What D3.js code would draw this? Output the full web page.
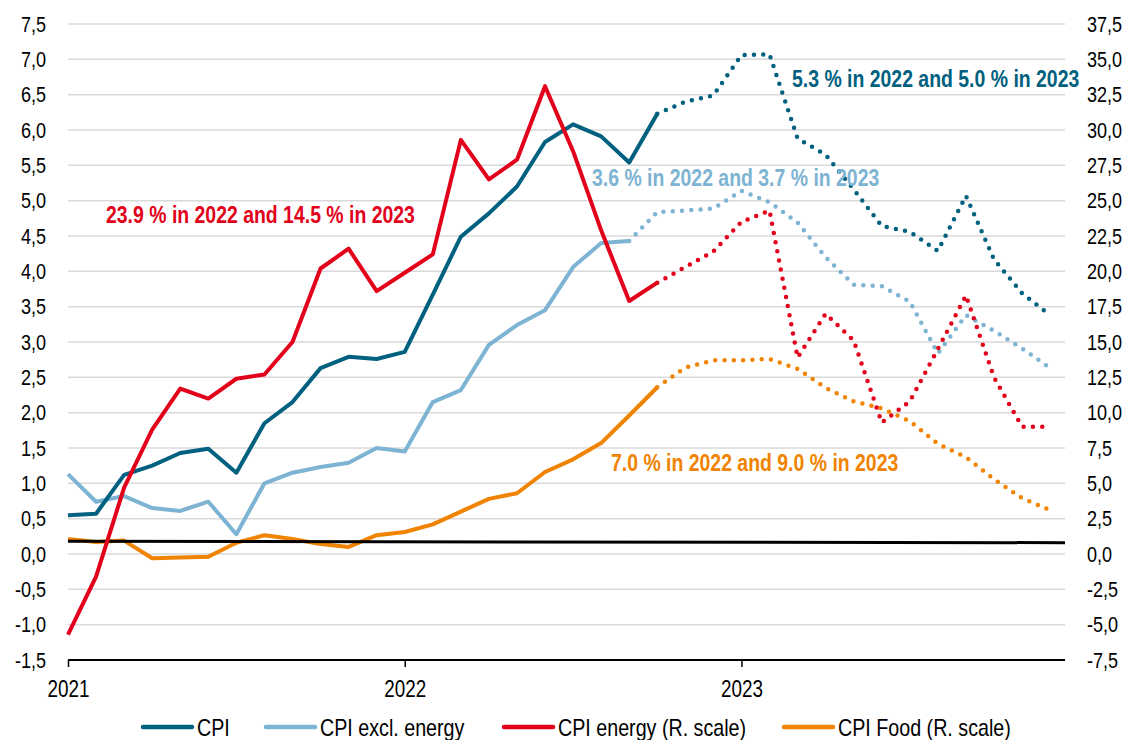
<!DOCTYPE html>
<html>
<head>
<meta charset="utf-8">
<script src="https://cdn.jsdelivr.net/npm/d3@7"></script>
<style>
  html, body { margin: 0; padding: 0; background: #fff; }
  svg { display: block; font-family: "Liberation Sans Narrow", "Arial Narrow", "Liberation Sans", sans-serif; }
</style>
</head>
<body>
<div id="host"></div>
<script>
// monthly, Jan 2021 .. Dec 2023 (index 0..35)
const yearLabels = ['2021', '2022', '2023'];
const yearTicks = [0, 12, 24];

const cpi = [0.55, 0.57, 1.12, 1.25, 1.43, 1.49, 1.15, 1.85, 2.15, 2.63, 2.79, 2.76,
  2.86, 3.67, 4.49, 4.82, 5.2, 5.83, 6.08, 5.91, 5.54, 6.23, 6.4, 6.49,
  7.06, 7.07, 5.88, 5.65, 5.16, 4.64, 4.56, 4.29, 5.07, 4.17, 3.69, 3.38];
const cpiExEnergy = [1.13, 0.74, 0.82, 0.65, 0.61, 0.74, 0.28, 1.0, 1.15, 1.23, 1.29, 1.5,
  1.45, 2.15, 2.32, 2.96, 3.24, 3.45, 4.06, 4.4, 4.43, 4.84, 4.86, 4.89,
  5.14, 4.98, 4.69, 4.2, 3.81, 3.79, 3.57, 2.84, 3.38, 3.16, 2.91, 2.63];
const cpiEnergy = [-5.7, -1.6, 4.7, 8.8, 11.7, 11.0, 12.4, 12.7, 15.0, 20.2, 21.6, 18.6,
  19.9, 21.2, 29.3, 26.5, 27.9, 33.1, 28.5, 22.9, 17.9, 19.2, 20.3, 21.4,
  23.5, 24.3, 13.9, 17.0, 15.1, 9.3, 10.8, 14.5, 18.3, 12.5, 9.0, 9.0];
const cpiFood = [1.06, 0.85, 0.95, -0.3, -0.25, -0.2, 0.8, 1.33, 1.06, 0.7, 0.5, 1.33,
  1.56, 2.1, 3.0, 3.9, 4.3, 5.8, 6.7, 7.85, 9.8, 11.8, 13.2, 13.7,
  13.7, 13.8, 13.1, 11.75, 10.8, 10.3, 9.4, 7.8, 6.85, 5.3, 3.95, 3.1];
// last observed month per series (forecast drawn dotted after it)
const lastActual = [21, 20, 21, 21];
// black reference line (left scale), start and end
const refLine = [0.18, 0.16];

const seriesNames = ['CPI', 'CPI excl. energy', 'CPI energy (R. scale)', 'CPI Food (R. scale)'];
const annotations = [
  '5.3 % in 2022 and 5.0 % in 2023',
  '3.6 % in 2022 and 3.7 % in 2023',
  '23.9 % in 2022 and 14.5 % in 2023',
  '7.0 % in 2022 and 9.0 % in 2023',
];

const colors = ['#00607f', '#7db3d3', '#e2001a', '#f08300'];

const width = 1132, height = 740;
const margin = { top: 24, right: 67, bottom: 80, left: 68 };
const innerW = width - margin.left - margin.right;
const innerH = height - margin.top - margin.bottom;

const locale = d3.formatLocale({ decimal: ',', thousands: '.', grouping: [3], currency: ['', ''], minus: '-' });
const fmt = locale.format('.1f');

// no narrow face installed: squeeze the regular one
function narrow(sel, f = 0.82) {
  sel.each(function () {
    const w = this.getComputedTextLength();
    d3.select(this).attr('textLength', w * f).attr('lengthAdjust', 'spacingAndGlyphs');
  });
}

const svg = d3.select('#host').append('svg')
  .attr('width', width)
  .attr('height', height);

const g = svg.append('g').attr('transform', `translate(${margin.left},${margin.top})`);

const x = d3.scaleLinear().domain([0, 35.53]).range([0, innerW]);
const yL = d3.scaleLinear().domain([-1.5, 7.5]).range([innerH, 0]);
const yR = d3.scaleLinear().domain([-7.5, 37.5]).range([innerH, 0]);

const leftTicks = d3.range(-1.5, 7.51, 0.5);
const rightTicks = d3.range(-7.5, 37.51, 2.5);

// gridlines
g.append('g')
  .selectAll('line')
  .data(leftTicks.filter((v) => v > -1.5))
  .join('line')
  .attr('x1', 0)
  .attr('x2', innerW)
  .attr('y1', (v) => yL(v))
  .attr('y2', (v) => yL(v))
  .attr('stroke', '#d9d9d9')
  .attr('stroke-width', 1.5);

// axes
const axL = g.append('g')
  .call(d3.axisLeft(yL).tickValues(leftTicks).tickSize(0).tickPadding(22).tickFormat(fmt));
axL.select('.domain').remove();
axL.selectAll('text').attr('font-size', 22).attr('fill', '#000').call(narrow);

const axR = g.append('g')
  .attr('transform', `translate(${innerW},0)`)
  .call(d3.axisRight(yR).tickValues(rightTicks).tickSize(0).tickPadding(22).tickFormat(fmt));
axR.select('.domain').remove();
axR.selectAll('text').attr('font-size', 22).attr('fill', '#000').call(narrow);

const axX = g.append('g')
  .attr('transform', `translate(0,${innerH})`)
  .call(d3.axisBottom(x).tickValues(yearTicks).tickSize(7).tickPadding(14)
    .tickFormat((d, i) => yearLabels[i]));
axX.select('.domain').attr('d', `M0,0H${innerW}`).attr('stroke', '#000').attr('stroke-width', 2);
axX.selectAll('.tick line').attr('stroke', '#000').attr('stroke-width', 1.5);
axX.selectAll('text').attr('font-size', 23).attr('fill', '#000').call(narrow);

const line = (yScale) => d3.line()
  .x((d) => x(d.i))
  .y((d) => yScale(d.v));

const series = [
  { values: cpi, y: yL },
  { values: cpiExEnergy, y: yL },
  { values: cpiEnergy, y: yR },
  { values: cpiFood, y: yR },
];

function drawSeries(k) {
  const s = series[k];
  const pts = s.values.map((v, i) => ({ i, v }));
  const cut = lastActual[k];
  g.append('path')
    .datum(pts.slice(0, cut + 1))
    .attr('d', line(s.y))
    .attr('fill', 'none')
    .attr('stroke', colors[k])
    .attr('stroke-width', 4)
    .attr('stroke-linejoin', 'round');
  g.append('path')
    .datum(pts.slice(cut))
    .attr('d', line(s.y))
    .attr('fill', 'none')
    .attr('stroke', colors[k])
    .attr('stroke-width', 4.5)
    .attr('stroke-linecap', 'round')
    .attr('stroke-dasharray', '0 9.3');
}

// draw order: food, ref line, excl. energy, CPI, energy
drawSeries(3);
g.append('line')
  .attr('x1', x(0))
  .attr('x2', x(35.53))
  .attr('y1', yL(refLine[0]))
  .attr('y2', yL(refLine[1]))
  .attr('stroke', '#000')
  .attr('stroke-width', 3);
drawSeries(1);
drawSeries(0);
drawSeries(2);

// annotations (squeezed horizontally with a scale transform)
const annPos = [
  { x: 792, y: 87, c: 0 },
  { x: 592, y: 186, c: 1 },
  { x: 106, y: 223, c: 2 },
  { x: 611, y: 471, c: 3 },
];
svg.append('g')
  .selectAll('g')
  .data(annPos)
  .join('g')
  .attr('transform', (d) => `translate(${d.x},${d.y}) scale(0.81,1)`)
  .append('text')
  .attr('fill', (d) => colors[d.c])
  .attr('font-size', 24)
  .attr('font-weight', 'bold')
  .text((d, i) => annotations[i]);

// legend
const legendX = [141, 264, 502, 782];
const lg = svg.append('g').attr('transform', 'translate(0,727)');
const item = lg.selectAll('g')
  .data(seriesNames)
  .join('g')
  .attr('transform', (d, i) => `translate(${legendX[i]},0)`);
item.append('line')
  .attr('x1', 2)
  .attr('x2', 51)
  .attr('stroke', (d, i) => colors[i])
  .attr('stroke-width', 4.5)
  .attr('stroke-linecap', 'round');
item.append('text')
  .attr('x', 56)
  .attr('dy', '0.36em')
  .attr('font-size', 24)
  .attr('fill', '#000')
  .text((d) => d)
  .call(narrow);
</script>
</body>
</html>
